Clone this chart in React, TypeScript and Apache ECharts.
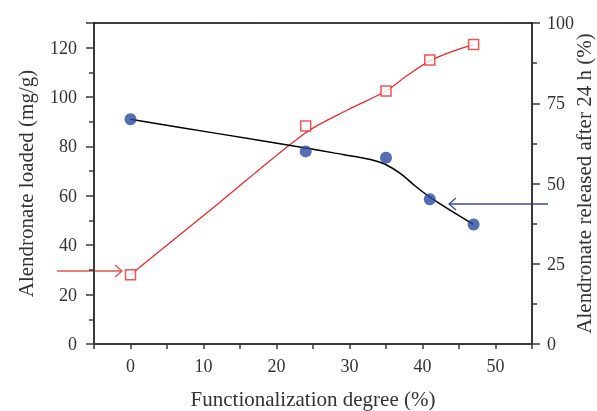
import React, { useEffect, useRef } from "react";
import * as echarts from "echarts";

// Measured points
const degree = [0, 24, 35, 41, 47];
const loaded = [91, 78, 75.4, 58.6, 48.4];
const released = [21.6, 67.9, 78.8, 88.5, 93.3];

// Fitted curves
const loadedFitX = [0, 12, 24, 28, 31, 33, 35, 37, 39, 41, 44, 47];
const loadedFitY = [91, 85.2, 79.4, 77.3, 75.8, 74.6, 72.6, 69, 64, 59.5, 53.8, 48.4];
const releasedFitX = [0, 12, 24, 30, 35, 38, 41, 44, 47];
const releasedFitY = [21.6, 43.7, 65.8, 73.2, 78.8, 83.8, 88.2, 91.1, 93.3];

const xTicks = [-5, 55, 5];
const leftTicks = [0, 130, 20];
const rightTicks = [0, 100, 25];

const FONT = "Liberation Serif";
const AX = "#3a3a3a";
const RED = "#ee2a2a";
const BLUE = "#2c4aa0";

export default function App() {
  const ref = useRef<HTMLDivElement>(null);
  useEffect(() => {
    if (!ref.current) return;
    const chart = echarts.init(ref.current, null, { renderer: "svg" });
    const zip = (xs: number[], ys: number[]) => xs.map((x, i) => [x, ys[i]]);
    const nameStyle = { fontFamily: FONT, fontSize: 21, color: "#333", align: "center", verticalAlign: "middle" };
    chart.setOption({
      animation: false,
      grid: { left: 94, right: 65, top: 23, bottom: 67, outerBoundsMode: "none", containLabel: false },
      textStyle: { fontFamily: FONT },
      xAxis: [
        {
          type: "value",
          min: xTicks[0],
          max: xTicks[1],
          interval: xTicks[2],
          name: "Functionalization degree (%)",
          nameLocation: "middle",
          nameGap: 55,
          nameMoveOverlap: false,
          nameTextStyle: nameStyle,
          axisLine: { show: true, onZero: false, lineStyle: { color: AX, width: 2 } },
          axisTick: { show: true, length: 5, lineStyle: { color: AX, width: 1.5 } },
          axisLabel: {
            margin: 13,
            fontFamily: FONT,
            fontSize: 18,
            color: "#333",
            formatter: (v: number) => (v % 10 === 0 && v >= 0 && v <= 50 ? String(v) : ""),
          },
          splitLine: { show: false },
        },
        {
          type: "value",
          position: "top",
          min: xTicks[0],
          max: xTicks[1],
          axisLine: { show: true, onZero: false, lineStyle: { color: "#000", width: 1.5 } },
          axisTick: { show: false },
          axisLabel: { show: false },
          splitLine: { show: false },
        },
      ],
      yAxis: [
        {
          type: "value",
          min: leftTicks[0],
          max: leftTicks[1],
          interval: leftTicks[2],
          name: "Alendronate loaded (mg/g)",
          nameLocation: "middle",
          nameGap: 68,
          nameRotate: 90,
          nameMoveOverlap: false,
          nameTextStyle: nameStyle,
          axisLine: { show: true, onZero: false, lineStyle: { color: AX, width: 2 } },
          axisTick: { show: true, length: 8, lineStyle: { color: AX, width: 1.5 } },
          minorTick: { show: true, splitNumber: 2, length: 5, lineStyle: { color: AX, width: 1.5 } },
          axisLabel: {
            margin: 17,
            fontFamily: FONT,
            fontSize: 18,
            color: "#333",
            formatter: (v: number) => (v <= 120 ? String(v) : ""),
          },
          splitLine: { show: false },
        },
        {
          type: "value",
          position: "right",
          min: rightTicks[0],
          max: rightTicks[1],
          interval: rightTicks[2],
          name: "Alendronate released after 24 h (%)",
          nameLocation: "middle",
          nameGap: 52,
          nameRotate: 90,
          nameMoveOverlap: false,
          nameTextStyle: nameStyle,
          axisLine: { show: true, onZero: false, lineStyle: { color: AX, width: 2 } },
          axisTick: { show: true, length: 8, lineStyle: { color: AX, width: 1.5 } },
          minorTick: { show: true, splitNumber: 2, length: 5, lineStyle: { color: AX, width: 1.5 } },
          axisLabel: { margin: 15, fontFamily: FONT, fontSize: 18, color: "#333" },
          splitLine: { show: false },
        },
      ],
      series: [
        {
          type: "line",
          yAxisIndex: 1,
          data: zip(releasedFitX, releasedFitY),
          smooth: 0.3,
          showSymbol: false,
          lineStyle: { color: RED, width: 1.3 },
          z: 2,
        },
        {
          type: "line",
          yAxisIndex: 0,
          data: zip(loadedFitX, loadedFitY),
          smooth: 0.3,
          showSymbol: false,
          lineStyle: { color: "#000", width: 1.5 },
          z: 2,
        },
        {
          type: "scatter",
          yAxisIndex: 1,
          data: zip(degree, released),
          symbol: "rect",
          symbolSize: 10,
          itemStyle: { color: "#fff", borderColor: RED, borderWidth: 1.5 },
          z: 3,
        },
        {
          type: "scatter",
          yAxisIndex: 0,
          data: zip(degree, loaded),
          symbol: "circle",
          symbolSize: 12,
          itemStyle: { color: BLUE },
          z: 4,
        },
      ],
      graphic: [
        { type: "line", shape: { x1: 57, y1: 271, x2: 122, y2: 271 }, style: { stroke: "#e8504a", lineWidth: 1.3 } },
        { type: "polyline", shape: { points: [[115, 265], [122, 271], [115, 277]] }, style: { stroke: "#e8504a", lineWidth: 1.3, fill: null } },
        { type: "line", shape: { x1: 449, y1: 204, x2: 548, y2: 204 }, style: { stroke: "#3a4aa0", lineWidth: 1.3 } },
        { type: "polyline", shape: { points: [[456, 198], [449, 204], [456, 210]] }, style: { stroke: "#3a4aa0", lineWidth: 1.3, fill: null } },
      ],
    });
    return () => chart.dispose();
  }, []);
  return <div ref={ref} style={{ position: "fixed", left: 0, top: 0, width: 597, height: 411 }} />;
}
